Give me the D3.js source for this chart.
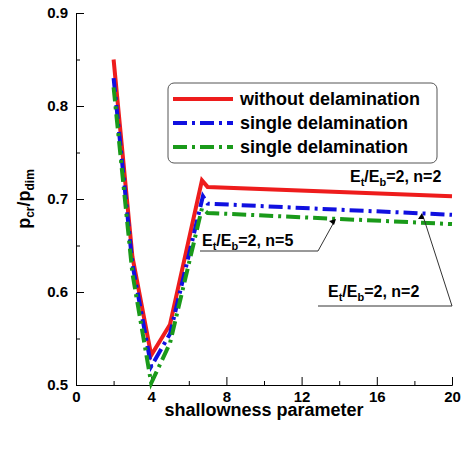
<!DOCTYPE html>
<html><head><meta charset="utf-8">
<script src="https://cdn.jsdelivr.net/npm/d3@7"></script>
<style>body{margin:0;background:#fff}text{font-family:Arial,"Liberation Sans",sans-serif;font-weight:bold}</style>
</head><body><svg id="c" width="474" height="451"></svg>
<script>
const xTicks = [0, 4, 8, 12, 16, 20];
const yTicks = [0.5, 0.6, 0.7, 0.8, 0.9];
const seriesNames = ["without delamination", "single delamination", "single delamination"];
const redX = [2, 3, 4, 5, 6.7, 7, 20];
const redY = [0.85, 0.638, 0.532, 0.565, 0.72, 0.713, 0.703];
const blueX = [2, 3, 4, 5, 6.75, 7, 20];
const blueY = [0.83, 0.63, 0.52, 0.555, 0.703, 0.695, 0.683];
const greenX = [2, 3, 4, 5, 6.7, 7, 20];
const greenY = [0.82, 0.62, 0.502, 0.545, 0.69, 0.685, 0.673];

const svg = d3.select("#c");
const x = d3.scaleLinear().domain([0, 20]).range([76, 452]);
const y = d3.scaleLinear().domain([0.5, 0.9]).range([385, 13]);

// axes
svg.append("g").attr("transform", "translate(0,385)")
  .call(d3.axisBottom(x).tickValues(xTicks).tickSize(-8).tickPadding(6))
  .call(g => g.select(".domain").attr("stroke", "#000"));
svg.append("g").attr("transform", "translate(0,385)")
  .call(d3.axisBottom(x).tickValues(d3.range(2, 20, 4)).tickSize(-4).tickFormat(""))
  .call(g => g.select(".domain").remove());
svg.append("g").attr("transform", "translate(76,0)")
  .call(d3.axisLeft(y).tickValues(yTicks).tickSize(-8).tickPadding(8).tickFormat(d3.format(".1f")))
  .call(g => g.select(".domain").attr("stroke", "#000"));
svg.append("g").attr("transform", "translate(76,0)")
  .call(d3.axisLeft(y).tickValues(d3.range(0.55, 0.9, 0.1)).tickSize(-4).tickFormat(""))
  .call(g => g.select(".domain").remove());
svg.selectAll(".tick text").attr("font-size", 15).attr("fill", "#000");

svg.append("text").attr("x", 264).attr("y", 416).attr("text-anchor", "middle")
  .attr("font-size", 18).text("shallowness parameter");
const yl = svg.append("text").attr("transform", "translate(30,199) rotate(-90)")
  .attr("text-anchor", "middle").attr("font-size", 18);
yl.append("tspan").text("p");
yl.append("tspan").attr("font-size", 12).attr("dy", 4).text("cr");
yl.append("tspan").attr("dy", -4).text("/p");
yl.append("tspan").attr("font-size", 12).attr("dy", 4).text("dim");

const line = d3.line().x(d => x(d[0])).y(d => y(d[1]));
const series = [
  {xs: redX, ys: redY, color: "#ee1c1c", dash: null},
  {xs: blueX, ys: blueY, color: "#1010e0", dash: "14,5,3,5"},
  {xs: greenX, ys: greenY, color: "#1a9a1a", dash: "14,5,3,5"}
];
series.forEach(s => {
  svg.append("path").datum(d3.zip(s.xs, s.ys)).attr("d", line)
    .attr("fill", "none").attr("stroke", s.color).attr("stroke-width", 4)
    .attr("stroke-dasharray", s.dash);
});

// legend
svg.append("rect").attr("x", 168).attr("y", 83).attr("width", 269).attr("height", 80)
  .attr("rx", 6).attr("fill", "#fff").attr("stroke", "#555");
series.forEach((s, i) => {
  const ly = 99 + i * 24;
  svg.append("line").attr("x1", 173).attr("x2", 233).attr("y1", ly).attr("y2", ly)
    .attr("stroke", s.color).attr("stroke-width", 4).attr("stroke-dasharray", s.dash);
  svg.append("text").attr("x", 240).attr("y", ly + 6).attr("font-size", 18).text(seriesNames[i]);
});

function label(tx, ty) {
  const t = svg.append("text").attr("x", tx).attr("y", ty).attr("font-size", 16);
  t.append("tspan").text("E");
  t.append("tspan").attr("font-size", 11).attr("dy", 4).text("t");
  t.append("tspan").attr("dy", -4).text("/E");
  t.append("tspan").attr("font-size", 11).attr("dy", 4).text("b");
  t.append("tspan").attr("dy", -4).text("=2, n=");
  return t;
}
label(350, 182).append("tspan").text("2");
label(202, 246).append("tspan").text("5");
label(328, 297).append("tspan").text("2");

const ann = svg.append("g").attr("stroke", "#333").attr("fill", "none").attr("stroke-width", 1);
ann.append("polyline").attr("points", [[200, 251], [318, 251], [334, 222]].join(" "));
ann.append("polyline").attr("points", [[318, 306], [452, 306], [423, 216]].join(" "));
svg.append("path").attr("d", "M336,219 l-7,2 l5,4z").attr("fill", "#000");
svg.append("path").attr("d", "M422,213 l-4,6 l6,0z").attr("fill", "#000");
</script></body></html>
